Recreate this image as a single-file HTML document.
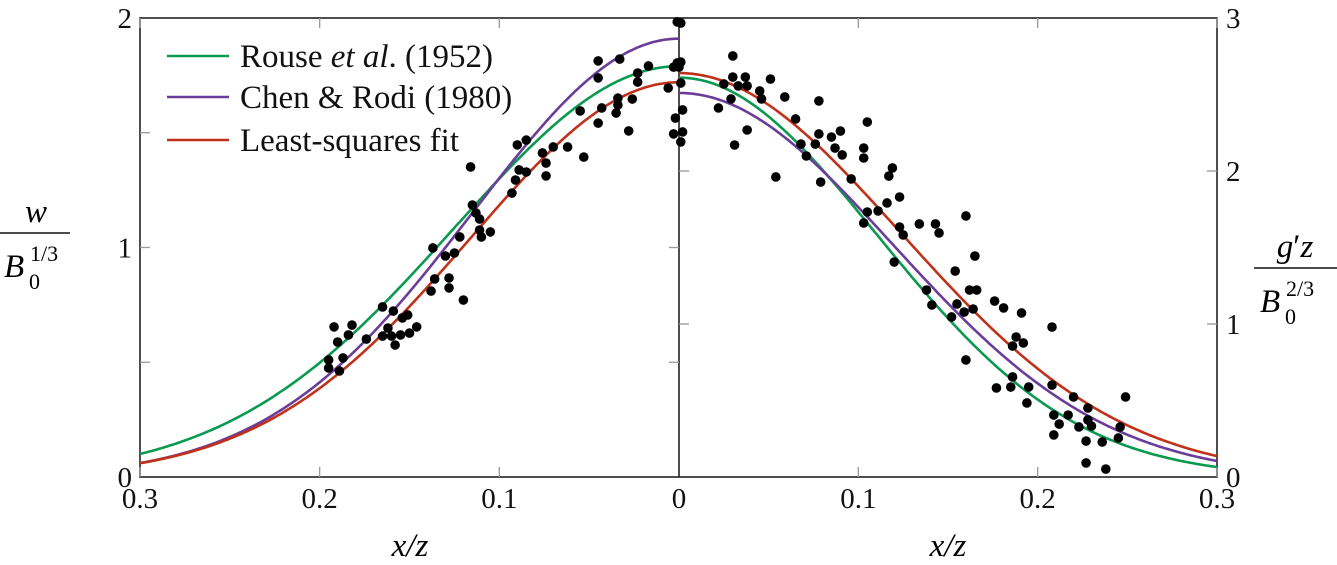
<!DOCTYPE html>
<html><head><meta charset="utf-8"><style>
html,body{margin:0;padding:0;background:#fff;}
svg{display:block;font-family:"Liberation Serif",serif;}
</style></head><body>
<svg id="c" width="1337" height="565" viewBox="0 0 1337 565" xmlns="http://www.w3.org/2000/svg"></svg>
<script>
// ---- data ----
const xTickLabels = ["0.3","0.2","0.1","0","0.1","0.2","0.3"];
const xTickValues = [-0.3,-0.2,-0.1,0,0.1,0.2,0.3];
const leftTickLabels = ["0","1","2"];
const rightTickLabels = ["0","1","2","3"];
const seriesNames = ["Rouse et al. (1952)","Chen & Rodi (1980)","Least-squares fit"];
const wPeak = [1.79, 1.91, 1.72];
const wCoef = [32.0, 38.3, 37.3];
const gPeak = [2.61, 2.51, 2.64];
const gCoef = [41.0, 35.3, 32.9];
const wX = [.137,.130,.125,.122,.136,.138,.128,.128,.120,.165,.159,.154,.151,.162,.165,.160,.158,.155,.150,.146,.174,.192,.182,.184,.190,.187,.195,.195,.189,.116,.115,.113,.111,.111,.110,.105,.093,.091,.089,.085,.090,.085,.076,.074,.074,.070,.062,.053,.055,.045,.043,.045,.045,.033,.035,.034,.034,.028,.026,.023,.023,.017,.006,.003,.001,0,.003,.002,.001];
const wY = [.998,.963,.976,1.046,.863,.810,.867,.824,.771,.741,.723,.693,.706,.649,.614,.614,.575,.619,.627,.654,.601,.654,.662,.619,.588,.519,.510,.475,.462,1.351,1.185,1.150,1.124,1.076,1.046,1.068,1.237,1.294,1.338,1.329,1.447,1.468,1.412,1.368,1.312,1.438,1.438,1.394,1.595,1.542,1.608,1.739,1.813,1.821,1.586,1.621,1.651,1.508,1.647,1.721,1.760,1.791,1.695,1.786,1.804,1.786,1.495,1.564,1.983];
const gX = [.001,.002,.002,.001,.001,.001,.030,.030,.037,.038,.033,.025,.029,.022,.031,.038,.045,.046,.051,.059,.065,.078,.054,.068,.071,.076,.078,.079,.085,.090,.087,.091,.096,.105,.103,.103,.119,.117,.123,.116,.111,.105,.103,.123,.125,.134,.143,.145,.160,.120,.165,.154,.138,.141,.155,.159,.164,.152,.162,.166,.160,.176,.181,.191,.208,.188,.192,.186,.186,.177,.185,.195,.194,.208,.220,.228,.249,.209,.212,.217,.223,.228,.230,.209,.227,.236,.246,.245,.227,.238];
const gY = [2.575,2.399,2.255,2.190,2.967,2.712,2.752,2.614,2.614,2.556,2.556,2.569,2.471,2.412,2.170,2.268,2.523,2.471,2.601,2.484,2.340,2.458,1.961,2.176,2.098,2.176,2.242,1.928,2.222,2.261,2.150,2.105,1.948,2.320,2.150,2.085,2.020,1.967,1.830,1.791,1.739,1.732,1.660,1.634,1.582,1.654,1.654,1.595,1.706,1.405,1.444,1.346,1.222,1.124,1.131,1.078,1.098,1.046,1.222,1.222,.765,1.150,1.105,1.072,.980,.915,.876,.856,.654,.582,.588,.588,.484,.601,.523,.451,.523,.405,.346,.405,.327,.373,.333,.275,.235,.229,.327,.255,.092,.052];

// ---- scales ----
const X0=140, XC=679, X1=1217, YT=18, YB=477;
const xL = v => XC - v/0.3*(XC-X0);
const xR = v => XC + v/0.3*(X1-XC);
const yW = v => YB - v/2*(YB-YT);
const yG = v => YB - v/3*(YB-YT);
const colors=["#0a9a4f","#6a3d9a","#c0311a"];
const NS="http://www.w3.org/2000/svg";
const svg=document.getElementById('c');
function mk(t,a,p){const e=document.createElementNS(NS,t);for(const k in a)e.setAttribute(k,a[k]);(p||svg).appendChild(e);return e;}

let fr=mk('rect',{x:X0,y:YT,width:X1-X0,height:YB-YT,fill:'none',stroke:'#222','stroke-width':1.6});


let cl=mk('line',{x1:XC,y1:YT,x2:XC,y2:YB,stroke:'#222','stroke-width':1.6});



const tg=mk('g',{stroke:'#999','stroke-width':1.3});


xTickValues.forEach(v=>{ if(v===0) return;
  const x = v<0 ? xL(-v) : xR(v);
  mk('line',{x1:x,y1:YB,x2:x,y2:YB-10},tg); mk('line',{x1:x,y1:YT,x2:x,y2:YT+10},tg);});
[0.5,1,1.5].forEach(v=>{const y=yW(v); mk('line',{x1:X0,y1:y,x2:X0+10,y2:y},tg); mk('line',{x1:XC,y1:y,x2:XC-10,y2:y},tg);});
[1,2].forEach(v=>{const y=yG(v); mk('line',{x1:X1,y1:y,x2:X1-10,y2:y},tg); mk('line',{x1:XC,y1:y,x2:XC+10,y2:y},tg);});

xTickLabels.forEach((l,i)=>{const v=xTickValues[i]; const x=v<0?xL(-v):xR(v);
  const t=mk('text',{x:x,y:508,'font-size':29,'text-anchor':'middle',fill:'#111'}); t.textContent=l;
  
  });
leftTickLabels.forEach((l,i)=>{const t=mk('text',{x:132,y:yW(i)+10,'font-size':29,'text-anchor':'end',fill:'#111'}); t.textContent=l;
  
  });
rightTickLabels.forEach((l,i)=>{const t=mk('text',{x:1226,y:yG(i)+10,'font-size':29,fill:'#111'}); t.textContent=l;
  
  });

for(let s=0;s<3;s++){
  let dl='',dr='';
  for(let i=0;i<=300;i++){const v=i/1000;
    dl+=(i?'L':'M')+xL(v).toFixed(1)+','+yW(wPeak[s]*Math.exp(-wCoef[s]*v*v)).toFixed(1);
    dr+=(i?'L':'M')+xR(v).toFixed(1)+','+yG(gPeak[s]*Math.exp(-gCoef[s]*v*v)).toFixed(1);}
  const a=mk('path',{d:dl,fill:'none',stroke:colors[s],'stroke-width':2.6});
  
  
  const b=mk('path',{d:dr,fill:'none',stroke:colors[s],'stroke-width':2.6});
  
  
}
wX.forEach((v,i)=>{const c=mk('circle',{cx:xL(v),cy:yW(wY[i]),r:4.8,fill:'#000'});
  
  });
gX.forEach((v,i)=>{const c=mk('circle',{cx:xR(v),cy:yG(gY[i]),r:4.8,fill:'#000'});
  
  });

const lg=mk('g',{});


const ly=[56,97,140];
seriesNames.forEach((n,i)=>{
  mk('line',{x1:167,y1:ly[i],x2:229,y2:ly[i],stroke:colors[i],'stroke-width':2.6},lg);
  const t=mk('text',{x:240,y:ly[i]+11,'font-size':33,fill:'#111'},lg);
  
  
  if(i===0){t.innerHTML='Rouse <tspan font-style="italic">et al</tspan>. (1952)';} else t.textContent=n;
});
</script>
<div style="position:absolute;left:0;top:0;width:1337px;height:565px;pointer-events:none">
<svg width="1337" height="565" style="position:absolute;left:0;top:0;font-family:'Liberation Serif',serif">
  <g>
    <text x="36" y="222" font-size="33" font-style="italic" text-anchor="middle">w</text>
    <line x1="0" y1="233" x2="70" y2="233" stroke="#111" stroke-width="1.6"/>
    <text x="4" y="277" font-size="33" font-style="italic">B</text>
    <text x="29" y="289" font-size="22">0</text>
    <text x="30" y="261" font-size="22">1/3</text>
  </g>
  <g>
    <text x="1295" y="257" font-size="33" text-anchor="middle"><tspan font-style="italic">g</tspan>′<tspan font-style="italic">z</tspan></text>
    <line x1="1254" y1="268" x2="1337" y2="268" stroke="#111" stroke-width="1.6"/>
    <text x="1260" y="312" font-size="33" font-style="italic">B</text>
    <text x="1285" y="324" font-size="22">0</text>
    <text x="1286" y="296" font-size="22">2/3</text>
  </g>
  <text x="410" y="556" font-size="33" font-style="italic" text-anchor="middle">x/z</text>
  <text x="948" y="556" font-size="33" font-style="italic" text-anchor="middle">x/z</text>
</svg>
</div>
</body></html>
